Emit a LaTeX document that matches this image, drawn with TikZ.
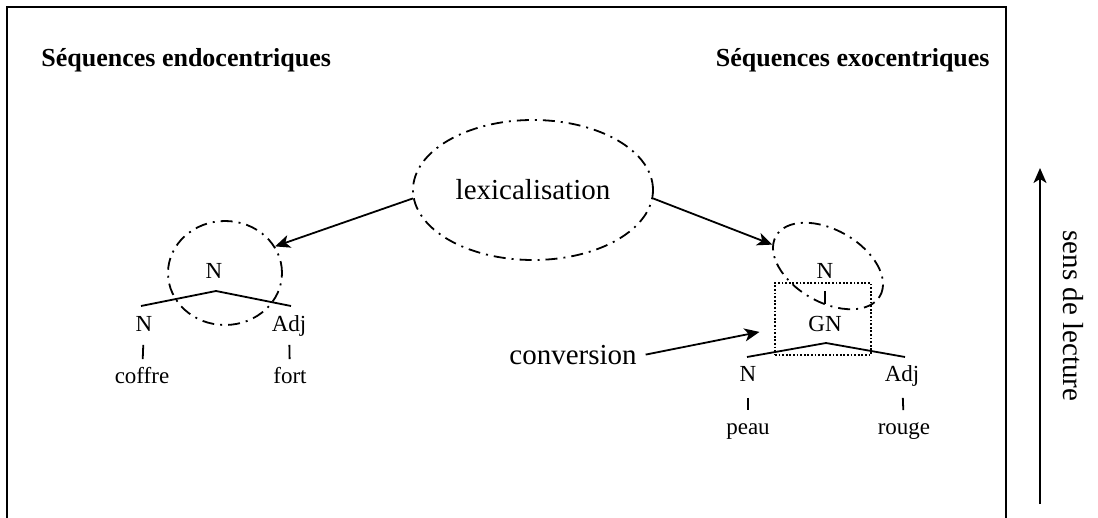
\documentclass[tikz,border=0pt]{standalone}
\usepackage{fontspec}
\setmainfont{Liberation Serif}
\usetikzlibrary{shapes.geometric, arrows.meta}

\begin{document}
\begin{tikzpicture}[
    x=0.5pt, y=-0.5pt,
    every node/.style={font=\fontsize{14.5}{17}\selectfont},
    heading/.style={font=\fontsize{13}{15}\selectfont\bfseries, inner sep=0pt},
    treelabel/.style={font=\fontsize{11.5}{13}\selectfont, inner sep=1pt, text height=8pt, text depth=2.5pt},
    dashdot/.style={draw, ellipse, line width=0.9pt, dash pattern=on 6pt off 3pt on 1pt off 3pt, inner sep=0pt},
    dotbox/.style={draw, rectangle, line width=0.8pt, dash pattern=on 0.9pt off 0.9pt, inner sep=0pt},
    branch/.style={line width=0.9pt},
    stem/.style={line width=0.9pt, shorten <=3pt, shorten >=3pt},
    arrow/.style={-{Stealth[length=7.5pt, width=6.5pt, inset=2pt]}, line width=0.9pt}
]
    \useasboundingbox (0,0) rectangle (1098,518);

    % Frame, open at the bottom
    \draw[line width=1pt] (7,518) -- (7,7) -- (1006,7) -- (1006,518);

    % Headings
    \node[heading, anchor=west] (endo_head) at (41,60) {Séquences endocentriques};
    \node[heading, anchor=east] (exo_head) at (990,60) {Séquences exocentriques};

    % Lexicalisation
    \node[dashdot, minimum width=120pt, minimum height=70pt] (lexi) at (533,190) {lexicalisation};

    % Left tree: coffre fort
    \node[dashdot, minimum width=57pt, minimum height=52pt] (endo_circ) at (225,273) {};
    \node[treelabel] (endo_top) at (214,273) {N};
    \coordinate (endo_left) at (141,306);
    \coordinate (endo_apex) at (216,291);
    \coordinate (endo_right) at (291,306);
    \draw[branch] (endo_left) -- (endo_apex) -- (endo_right);
    \node[treelabel] (endo_n) at (144,326) {N};
    \node[treelabel] (endo_adj) at (289,326) {Adj};
    \node[treelabel] (coffre) at (142,378) {coffre};
    \node[treelabel] (fort) at (290,378) {fort};
    \draw[stem] (endo_n) -- (coffre);
    \draw[stem] (endo_adj) -- (fort);

    % Right tree: peau rouge
    \node[dashdot, minimum width=60pt, minimum height=36pt, rotate=-30] (exo_circ) at (828,266) {};
    \node[treelabel] (exo_top) at (825,273) {N};
    \node[dotbox, minimum width=48pt, minimum height=36pt] (gn_box) at (823,319) {};
    \node[treelabel] (gn) at (825,326) {GN};
    \draw[stem, shorten <=2.5pt, shorten >=4.5pt] (exo_top) -- (gn);
    \coordinate (exo_left) at (747,357);
    \coordinate (exo_apex) at (826,343);
    \coordinate (exo_right) at (905,357);
    \draw[branch] (exo_left) -- (exo_apex) -- (exo_right);
    \node[treelabel] (exo_n) at (748,376) {N};
    \node[treelabel] (exo_adj) at (902,376) {Adj};
    \node[treelabel] (peau) at (748,429) {peau};
    \node[treelabel] (rouge) at (904,429) {rouge};
    \draw[stem, shorten <=4.5pt] (exo_n) -- (peau);
    \draw[stem, shorten <=4.5pt] (exo_adj) -- (rouge);

    % Conversion
    \node (conv) at (573,355) {conversion};
    \draw[arrow, shorten <=1pt, shorten >=7.5pt] (conv.east) -- ([yshift=-5pt]gn_box.west);

    % Arrows from lexicalisation
    \draw[arrow] (lexi.184) -- (endo_circ.28);
    \draw[arrow] (lexi.356) -- (exo_circ.189);

    % Reading direction
    \coordinate (read_start) at (1040,504);
    \coordinate (read_end) at (1040,168);
    \draw[arrow] (read_start) -- (read_end);
    \node[rotate=-90] (read_lbl) at (1073,316) {sens de lecture};

\end{tikzpicture}
\end{document}
